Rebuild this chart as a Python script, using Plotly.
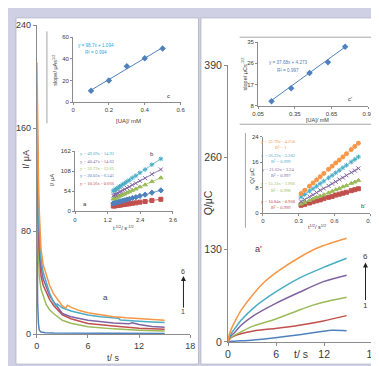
import plotly.graph_objects as go

W, H = 379, 366
def fx(px): return px / W
def fy(py): return 1 - py / H

# ---------------- DATA ----------------
# Left main: current transients I (uA) vs t (s), series 1..6
lm_t = {
    "1": [0.02, 0.05, 0.1, 0.2, 0.3, 0.5, 1, 2, 4, 6, 9, 12, 15],
    "2": [0.02, 0.05, 0.1, 0.2, 0.3, 0.5, 0.8, 1.1, 1.5, 2, 3, 4, 6, 9, 12, 15],
    "3": [0.02, 0.05, 0.1, 0.2, 0.3, 0.5, 0.75, 1.1, 1.5, 2, 3, 4, 6, 9, 12, 15],
    "4": [0.02, 0.05, 0.1, 0.2, 0.3, 0.5, 0.75, 1.1, 1.5, 2, 3, 4, 5, 6, 9, 10.8, 11.2, 12, 13.5, 15],
    "5": [0.02, 0.05, 0.1, 0.2, 0.3, 0.5, 0.75, 1, 1.5, 2, 2.3, 2.4, 3, 4, 5, 6, 7.5, 9, 9.6, 9.8, 10.5, 12, 13.5, 15],
    "6": [0.02, 0.05, 0.1, 0.2, 0.3, 0.5, 0.75, 1, 1.5, 2, 2.5, 3, 3.4, 3.6, 4, 5, 6, 7.5, 9, 10.5, 12, 13.5, 15],
}
lm_v = {
    "1": [100, 60, 25, 8, 3, 1.6, 1.1, 0.9, 0.8, 0.7, 0.6, 0.5, 0.5],
    "2": [150, 120, 90, 60, 45, 35, 28, 23, 19, 15.8, 10.8, 8.5, 5.8, 4.1, 3.1, 2.5],
    "3": [165, 140, 110, 80, 62, 45, 38, 33, 27, 22, 15, 12, 8.3, 6.3, 4.5, 3.8],
    "4": [175, 150, 120, 90, 72, 52, 43, 37, 30, 25, 16, 13.5, 12, 10.8, 8.7, 8.0, 8.8, 7.5, 6.0, 5.3],
    "5": [185, 165, 142, 100, 80, 58, 48, 42, 32, 24.5, 21.5, 23.5, 20.5, 18, 16.3, 14.8, 13.6, 12.7, 12.3, 11.0, 10.6, 10, 9.5, 9],
    "6": [211, 190, 165, 120, 95, 66, 54, 48, 38, 31, 26, 22, 20.3, 22.5, 21, 18.3, 16.6, 15, 13.6, 12.7, 11.9, 11.3, 10.8],
}

# Left inset c: slope vs [UA]
lc_x = [0.1, 0.2, 0.3, 0.4, 0.5]
lc_y = [10.5, 20.0, 33.0, 40.5, 49.5]
lc_fit = (98.7, 1.094)

# Left inset b: I vs t^-1/2
lb_x = [1.41, 1.45, 1.49, 1.54, 1.58, 1.64, 1.69, 1.76, 1.83, 1.91, 2.00, 2.11, 2.24, 2.39, 2.58, 2.83, 3.16]
lb_y = {
    "5": [55.1, 57.6, 58.8, 61.9, 63.2, 66.9, 68.7, 72.9, 75.6, 80.4, 84.1, 90.3, 96.0, 104.2, 112.9, 126.1, 141.7],
    "4": [42.4, 44.5, 45.3, 48.0, 49.0, 52.2, 53.5, 56.9, 59.1, 63.0, 66.0, 71.2, 75.7, 82.4, 89.5, 100.3, 113.0],
    "2": [33.5, 35.2, 35.9, 38.1, 38.8, 41.4, 42.5, 45.3, 47.0, 50.2, 52.6, 56.8, 60.4, 65.9, 71.5, 80.3, 90.5],
    "1": [21.7, 22.7, 23.1, 24.5, 24.9, 26.5, 27.1, 28.9, 29.9, 31.9, 33.3, 35.9, 38.1, 41.5, 44.9, 50.3, 56.6],
    "3": [14.2, 14.8, 14.9, 15.8, 15.8, 16.9, 17.0, 18.1, 18.5, 19.7, 20.3, 21.8, 22.8, 24.8, 26.4, 29.4, 32.5],
}
lb_fit = {"5": (49.69, -14.92), "4": (40.47, -14.62), "2": (32.73, -12.61),
          "1": (20.03, -6.541), "3": (10.56, -0.666)}
lb_eq = {"5": "y = 49.69x - 14.92", "4": "y = 40.47x - 14.62", "2": "y = 32.73x - 12.61",
         "1": "y = 20.03x - 6.541", "3": "y = 10.56x - 0.666"}

# Right main: charge Q (uC) vs t (s)
rm_t = {
    "6": [0, 0.1, 0.4, 1.2, 1.6, 3.2, 4.5, 5.9, 8.9, 11.3, 14.8],
    "5": [0, 0.1, 0.4, 0.8, 1.6, 3.2, 5.9, 8.9, 11.9, 14.8],
    "4": [0, 0.1, 0.4, 0.8, 1.6, 3.2, 5.9, 8.9, 11.9, 14.8],
    "2": [0, 0.3, 0.6, 1.6, 3.2, 5.9, 8.9, 10.5, 11.9, 14.8],
    "3": [0, 0.2, 0.6, 1.6, 3.2, 5.9, 8.9, 11.9, 14.8],
    "1": [0, 0.5, 1.6, 3.2, 5.9, 8.9, 11.9, 12.9, 14.8],
}
rm_v = {
    "6": [0, 8, 18, 36, 44, 68, 84, 97, 119, 133, 146],
    "5": [0, 5, 12, 18, 30, 48, 70, 90, 105, 118],
    "4": [0, 4, 9, 13, 23, 37, 54, 70, 85, 94],
    "2": [0, 5, 8, 14, 22.5, 32, 45, 51.5, 56, 63],
    "3": [0, 4, 7.5, 11.5, 15.5, 19, 23.5, 29.5, 37],
    "1": [0, 0.8, 1.5, 2.8, 5.8, 10, 15, 16.3, 15.8],
}

# Right inset c': slope vs [UA]
rc_x = [0.16, 0.32, 0.47, 0.62, 0.76]
rc_y = [10.0, 15.5, 21.9, 26.5, 33.0]
rc_fit = (37.68, 4.273)

# Right inset b': Q vs t^1/2
rb_x = [0.32, 0.35, 0.39, 0.42, 0.45, 0.48, 0.51, 0.55, 0.58, 0.61, 0.64, 0.67, 0.70, 0.74, 0.77, 0.80]
rb_y = {
    "6": [6.2, 7.2, 8.5, 9.5, 10.5, 11.5, 12.5, 13.8, 14.8, 15.8, 16.7, 17.7, 18.7, 20.0, 21.0, 22.0],
    "5": [5.1, 5.9, 7.0, 7.7, 8.5, 9.3, 10.1, 11.1, 11.9, 12.7, 13.5, 14.3, 15.1, 16.1, 16.9, 17.7],
    "4": [3.7, 4.3, 5.2, 5.8, 6.5, 7.2, 7.8, 8.6, 9.3, 9.9, 10.6, 11.2, 11.9, 12.8, 13.4, 14.1],
    "2": [2.9, 3.4, 4.0, 4.5, 5.0, 5.4, 5.8, 6.4, 6.9, 7.4, 7.8, 8.3, 8.7, 9.4, 9.8, 10.3],
    "3": [2.5, 2.8, 3.2, 3.6, 3.9, 4.2, 4.6, 5.0, 5.3, 5.7, 6.0, 6.3, 6.6, 7.1, 7.4, 7.7],
}
rb_fit = {"6": (32.79, -4.250), "5": (26.22, -3.282), "4": (21.62, -3.24),
          "2": (15.31, -1.966), "3": (10.84, -0.968)}
rb_eq = {"6": ("y = 32.79x - 4.250", "R² = 1"), "5": ("y = 26.22x - 3.282", "R² = 0.999"),
         "4": ("y = 21.62x - 3.24", "R² = 0.997"), "2": ("y = 15.31x - 1.966", "R² = 0.998"),
         "3": ("y = 10.84x - 0.968", "R² = 0.999")}

# ---------------- STYLE ----------------
COL = {"1": "#4F81BD", "2": "#9BBB59", "3": "#C0504D", "4": "#8064A2", "5": "#4BACC6", "6": "#F79646"}
SYM = {"1": "diamond", "2": "triangle-up", "3": "square", "4": "x-thin-open", "5": "asterisk-open", "6": "circle"}
BG = "#cfd0e4"
AX = "#8c8c8c"
TXT = "#3a3a3a"
FONT = "Liberation Sans, Arial, sans-serif"

fig = go.Figure()

# left main
for k in ["1", "2", "3", "4", "5", "6"]:
    fig.add_trace(go.Scatter(x=lm_t[k], y=lm_v[k], mode="lines", line=dict(color=COL[k], width=1.5),
                             xaxis="x", yaxis="y", showlegend=False))
# right main
for k in ["1", "3", "2", "4", "5", "6"]:
    fig.add_trace(go.Scatter(x=rm_t[k], y=rm_v[k], mode="lines",
                             line=dict(color=COL[k], width=1.5, shape="spline", smoothing=0.8),
                             xaxis="x4", yaxis="y4", showlegend=False))
# left c
fig.add_trace(go.Scatter(x=[lc_x[0], lc_x[-1]], y=[lc_fit[0]*lc_x[0]+lc_fit[1], lc_fit[0]*lc_x[-1]+lc_fit[1]],
                         mode="lines", line=dict(color="#4F81BD", width=1), xaxis="x2", yaxis="y2", showlegend=False))
fig.add_trace(go.Scatter(x=lc_x, y=lc_y, mode="markers", marker=dict(symbol="diamond", size=5, color="#4F81BD"),
                         xaxis="x2", yaxis="y2", showlegend=False))
# left b
for k in ["3", "1", "2", "4", "5"]:
    m, b = lb_fit[k]
    fig.add_trace(go.Scatter(x=[1.38, 3.2], y=[m*1.38+b, m*3.2+b], mode="lines",
                             line=dict(color=COL[k], width=0.8), xaxis="x3", yaxis="y3", showlegend=False))
    fig.add_trace(go.Scatter(x=lb_x, y=lb_y[k], mode="markers",
                             marker=dict(symbol=SYM[k], size=4, color=COL[k], line=dict(color=COL[k], width=1)),
                             xaxis="x3", yaxis="y3", showlegend=False))
# right c'
fig.add_trace(go.Scatter(x=[rc_x[0], rc_x[-1]], y=[rc_fit[0]*rc_x[0]+rc_fit[1], rc_fit[0]*rc_x[-1]+rc_fit[1]],
                         mode="lines", line=dict(color="#4F81BD", width=1), xaxis="x5", yaxis="y5", showlegend=False))
fig.add_trace(go.Scatter(x=rc_x, y=rc_y, mode="markers", marker=dict(symbol="diamond", size=5, color="#4F81BD"),
                         xaxis="x5", yaxis="y5", showlegend=False))
# right b'
for k in ["3", "2", "4", "5", "6"]:
    m, b = rb_fit[k]
    fig.add_trace(go.Scatter(x=[0.3, 0.81], y=[m*0.3+b, m*0.81+b], mode="lines",
                             line=dict(color=COL[k], width=0.8), xaxis="x6", yaxis="y6", showlegend=False))
    fig.add_trace(go.Scatter(x=rb_x, y=rb_y[k], mode="markers",
                             marker=dict(symbol=SYM[k], size=4, color=COL[k], line=dict(color=COL[k], width=1)),
                             xaxis="x6", yaxis="y6", showlegend=False))

def axis(dom, rng, tickvals, size, anchor, ticklen=3):
    return dict(domain=dom, range=rng, tickvals=tickvals, showline=True, linecolor=AX, linewidth=1,
                ticks="outside", ticklen=ticklen, tickcolor=AX, showgrid=False, zeroline=False,
                tickfont=dict(size=size, color=TXT, family=FONT), anchor=anchor, fixedrange=True)

lay = dict(
    width=W, height=H, margin=dict(l=0, r=0, t=0, b=0), paper_bgcolor=BG, plot_bgcolor="rgba(0,0,0,0)",
    xaxis=axis([fx(23.5), fx(182)], [0, 18], [0, 6, 12, 18], 9, "y"),
    yaxis=axis([fy(331), fy(11.5)], [0, 240], [0, 80, 160, 240], 9, "x"),
    xaxis2=axis([fx(61), fx(172)], [0, 0.6], [0, 0.2, 0.4, 0.6], 6, "y2", 2),
    yaxis2=axis([fy(91), fy(24)], [0, 60], [0, 20, 40, 60], 6, "x2", 2),
    xaxis3=axis([fx(63), fx(164)], [0, 3.6], [0, 1.2, 2.4, 3.6], 6, "y3", 2),
    yaxis3=axis([fy(204), fy(142)], [0, 162], [0, 54, 108, 162], 6, "x3", 2),
    xaxis4=axis([fx(221), fx(370)], [0, 18], [0, 6, 12, 18], 10.5, "y4"),
    yaxis4=axis([fy(339), fy(53)], [0, 390], [0, 130, 260, 390], 10.5, "x4"),
    xaxis5=axis([fx(252), fx(366)], [0.05, 0.95], [0.05, 0.35, 0.65, 0.95], 6, "y5", 2),
    yaxis5=axis([fy(95), fy(29)], [8, 35], [8, 17, 26, 35], 6, "x5", 2),
    xaxis6=axis([fx(257), fx(368)], [0, 0.9], [0, 0.3, 0.6, 0.9], 6, "y6", 2),
    yaxis6=axis([fy(206), fy(127)], [0, 24], [0, 8, 16, 24], 6, "x6", 2),
)
lay["xaxis5"]["tickformat"] = ".2f"
fig.update_layout(**lay)

shapes = []
# panels
shapes.append(dict(type="rect", xref="paper", yref="paper", x0=fx(2), x1=fx(190.5), y0=fy(362), y1=fy(4),
                   fillcolor="white", line=dict(color="#b8b8cc", width=1), layer="below"))
shapes.append(dict(type="rect", xref="paper", yref="paper", x0=fx(193), x1=fx(376), y0=fy(362), y1=fy(4),
                   fillcolor="white", line=dict(color="#b8b8cc", width=1), layer="below"))
# inset frame lines
def pline(x0, y0, x1, y1, color="#a6a6a6", width=1):
    shapes.append(dict(type="line", xref="paper", yref="paper", x0=fx(x0), x1=fx(x1), y0=fy(y0), y1=fy(y1),
                       line=dict(color=color, width=width)))
pline(34, 18, 34, 113)
pline(233, 24, 373, 24)
pline(233, 114, 373, 114)
pline(239, 123, 239, 221)
fig.update_layout(shapes=shapes)

ann = []
def txt(x, y, s, size, color=TXT, angle=0, xanchor="center", family=FONT):
    ann.append(dict(x=fx(x), y=fy(y), xref="paper", yref="paper", text=s, showarrow=False,
                    font=dict(size=size, color=color, family=family), textangle=angle,
                    xanchor=xanchor, yanchor="middle"))
# main titles
txt(12, 150, "I/ μA", 9, angle=-90)
txt(103, 356, "t/ s", 9)
txt(200, 195, "Q/μC", 10.5, angle=-90)
txt(296, 352, "t/ s", 10.5)
# left c
txt(42, 58, "slope/ μAs<sup>1/2</sup>", 5.5, angle=-90)
txt(118, 111, "[UA]/ mM", 6)
txt(85, 33, "y = 98.7x + 1.094", 4.6, color="#1fa9e6")
txt(85, 40, "R² = 0.994", 4.6, color="#1fa9e6")
txt(160, 85, "c", 6)
# left b
txt(40, 172, "I/ μA", 6, angle=-90)
txt(113, 221, "t<sup>-1/2</sup>/ s<sup>-1/2</sup>", 5.5)
for k, yy in zip(["5", "4", "2", "1", "3"], [144, 152, 160, 167, 175]):
    txt(66, yy, lb_eq[k], 4.6, color=COL[k], xanchor="left", family="Liberation Serif, serif")
txt(73, 196, "a", 6)
txt(142, 145, "b", 6)
# left main
txt(94, 293, "a", 8)
txt(175, 266, "6", 7)
txt(175, 308, "1", 7)
# right c'
txt(238, 62, "slope/ μCs<sup>-1/2</sup>", 5.5, angle=-90)
txt(313, 109.5, "[UA]/ mM", 5.5)
txt(283, 50, "y = 37.68x + 4.273", 4.6, color="#4F81BD")
txt(283, 58, "R² = 0.997", 4.6, color="#4F81BD")
txt(347, 88, "c'", 6)
# right b'
txt(245, 167, "Q/ μC", 6, angle=-90)
txt(313, 220, "t<sup>1/2</sup>/ s<sup>1/2</sup>", 5.5)
for k, (y1, y2) in zip(["6", "5", "4", "2", "3"], [(132, 138), (146, 153), (161, 167), (175, 182), (194, 200)]):
    txt(273, y1, rb_eq[k][0], 4.6, color=COL[k], family="Liberation Serif, serif")
    txt(276, y2, rb_eq[k][1], 4.6, color=COL[k], family="Liberation Serif, serif")
txt(360, 199, "b'", 6)
# right main
txt(252, 243, "a'", 9)
txt(363, 251, "6", 8)
txt(363, 301, "1", 8)

# arrows
ann.append(dict(x=fx(175), y=fy(271), ax=0, ay=33, xref="paper", yref="paper", axref="pixel",
                ayref="pixel", showarrow=True, arrowhead=2, arrowsize=1, arrowwidth=1, arrowcolor="#222", text=""))
ann.append(dict(x=fx(363), y=fy(257), ax=0, ay=39, xref="paper", yref="paper", axref="pixel",
                ayref="pixel", showarrow=True, arrowhead=2, arrowsize=1, arrowwidth=1, arrowcolor="#222", text=""))
fig.update_layout(annotations=ann)

fig.write_html("out.html")
